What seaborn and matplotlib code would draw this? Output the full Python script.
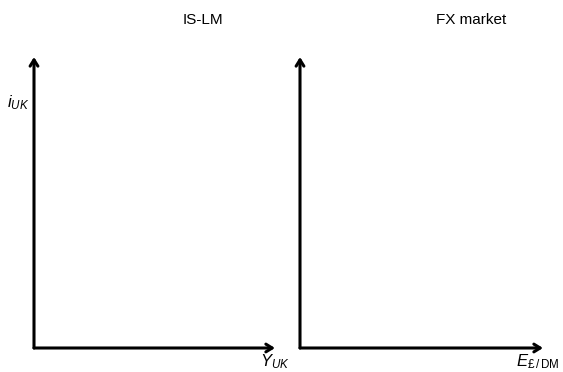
import matplotlib
matplotlib.use("Agg")
import matplotlib.pyplot as plt
import seaborn as sns

sns.set_style("white")
plt.rcParams['font.family'] = ['Liberation Sans', 'DejaVu Sans']
plt.rcParams['mathtext.fontset'] = 'custom'
plt.rcParams['mathtext.it'] = 'Liberation Sans:italic'
plt.rcParams['mathtext.rm'] = 'Liberation Sans'
plt.rcParams['text.color'] = 'black'

titles = ["IS-LM", "FX market"]
xlabels = [r"$Y_{UK}$", r"$E_{\mathrm{£\,/\,DM}}$"]
ylabels = [r"$i_{UK}$", ""]

W, H = 563, 372
fig = plt.figure(figsize=(W / 100, H / 100), dpi=100)

axes_px = [(34, 275), (300, 543)]
y0, y1 = 348, 57
title_x = [203, 471]
xlabel_pos = [(290, 362), (559, 362)]

for i, (xa, xb) in enumerate(axes_px):
    ax = fig.add_axes([xa / W, (H - y0) / H, (xb - xa) / W, (y0 - y1) / H])
    sns.despine(ax=ax, left=True, bottom=True)
    ax.set_xticks([])
    ax.set_yticks([])
    ax.patch.set_alpha(0)
    arrow = dict(arrowstyle="->,head_length=0.45,head_width=0.28", lw=2.2, color="black",
                 shrinkA=0, shrinkB=0)
    ax.annotate("", xy=(1, 0), xytext=(0, 0), xycoords="axes fraction", arrowprops=arrow)
    ax.annotate("", xy=(0, 1), xytext=(0, 0), xycoords="axes fraction", arrowprops=arrow)
    fig.text(title_x[i] / W, 1 - 20 / H, titles[i], ha="center", va="center", fontsize=11)
    fig.text(xlabel_pos[i][0] / W, 1 - xlabel_pos[i][1] / H, xlabels[i], ha="right",
             va="center", fontsize=12)
    if ylabels[i]:
        fig.text(18 / W, 1 - 103 / H, ylabels[i], ha="center", va="center", fontsize=12)

fig.savefig("out.png", dpi=100)
